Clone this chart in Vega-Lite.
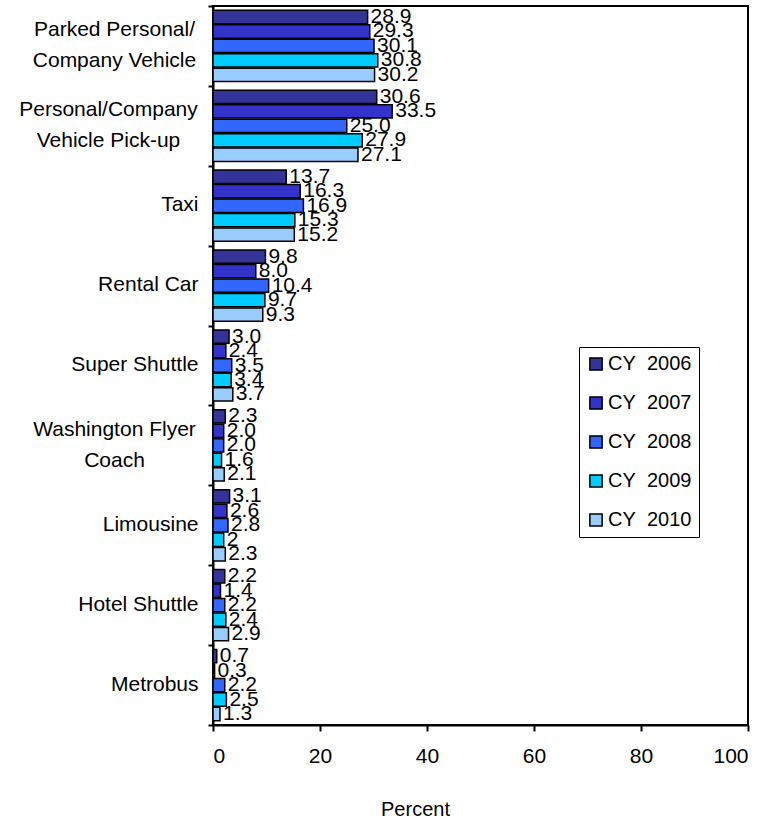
{
  "$schema": "https://vega.github.io/schema/vega-lite/v6.json",
  "width": 535,
  "height": 719,
  "autosize": "none",
  "padding": {"left": 213, "top": 6, "right": 32, "bottom": 95},
  "background": "white",
  "config": {
    "font": "Liberation Sans",
    "view": {"stroke": "black", "strokeWidth": 2},
    "axis": {"labelColor": "black", "titleColor": "black", "domainColor": "black", "tickColor": "black", "domainWidth": 2, "tickWidth": 2, "grid": false, "labelFontSize": 21, "titleFontSize": 20, "titleFontWeight": "normal"},
    "legend": {"labelColor": "black"}
  },
  "data": {
    "values": [
      {"mode": "Parked Personal/Company Vehicle", "year": "CY 2006", "pct": 28.9, "label": "28.9"},
      {"mode": "Parked Personal/Company Vehicle", "year": "CY 2007", "pct": 29.3, "label": "29.3"},
      {"mode": "Parked Personal/Company Vehicle", "year": "CY 2008", "pct": 30.1, "label": "30.1"},
      {"mode": "Parked Personal/Company Vehicle", "year": "CY 2009", "pct": 30.8, "label": "30.8"},
      {"mode": "Parked Personal/Company Vehicle", "year": "CY 2010", "pct": 30.2, "label": "30.2"},
      {"mode": "Personal/Company Vehicle Pick-up", "year": "CY 2006", "pct": 30.6, "label": "30.6"},
      {"mode": "Personal/Company Vehicle Pick-up", "year": "CY 2007", "pct": 33.5, "label": "33.5"},
      {"mode": "Personal/Company Vehicle Pick-up", "year": "CY 2008", "pct": 25.0, "label": "25.0"},
      {"mode": "Personal/Company Vehicle Pick-up", "year": "CY 2009", "pct": 27.9, "label": "27.9"},
      {"mode": "Personal/Company Vehicle Pick-up", "year": "CY 2010", "pct": 27.1, "label": "27.1"},
      {"mode": "Taxi", "year": "CY 2006", "pct": 13.7, "label": "13.7"},
      {"mode": "Taxi", "year": "CY 2007", "pct": 16.3, "label": "16.3"},
      {"mode": "Taxi", "year": "CY 2008", "pct": 16.9, "label": "16.9"},
      {"mode": "Taxi", "year": "CY 2009", "pct": 15.3, "label": "15.3"},
      {"mode": "Taxi", "year": "CY 2010", "pct": 15.2, "label": "15.2"},
      {"mode": "Rental Car", "year": "CY 2006", "pct": 9.8, "label": "9.8"},
      {"mode": "Rental Car", "year": "CY 2007", "pct": 8.0, "label": "8.0"},
      {"mode": "Rental Car", "year": "CY 2008", "pct": 10.4, "label": "10.4"},
      {"mode": "Rental Car", "year": "CY 2009", "pct": 9.7, "label": "9.7"},
      {"mode": "Rental Car", "year": "CY 2010", "pct": 9.3, "label": "9.3"},
      {"mode": "Super Shuttle", "year": "CY 2006", "pct": 3.0, "label": "3.0"},
      {"mode": "Super Shuttle", "year": "CY 2007", "pct": 2.4, "label": "2.4"},
      {"mode": "Super Shuttle", "year": "CY 2008", "pct": 3.5, "label": "3.5"},
      {"mode": "Super Shuttle", "year": "CY 2009", "pct": 3.4, "label": "3.4"},
      {"mode": "Super Shuttle", "year": "CY 2010", "pct": 3.7, "label": "3.7"},
      {"mode": "Washington Flyer Coach", "year": "CY 2006", "pct": 2.3, "label": "2.3"},
      {"mode": "Washington Flyer Coach", "year": "CY 2007", "pct": 2.0, "label": "2.0"},
      {"mode": "Washington Flyer Coach", "year": "CY 2008", "pct": 2.0, "label": "2.0"},
      {"mode": "Washington Flyer Coach", "year": "CY 2009", "pct": 1.6, "label": "1.6"},
      {"mode": "Washington Flyer Coach", "year": "CY 2010", "pct": 2.1, "label": "2.1"},
      {"mode": "Limousine", "year": "CY 2006", "pct": 3.1, "label": "3.1"},
      {"mode": "Limousine", "year": "CY 2007", "pct": 2.6, "label": "2.6"},
      {"mode": "Limousine", "year": "CY 2008", "pct": 2.8, "label": "2.8"},
      {"mode": "Limousine", "year": "CY 2009", "pct": 2.0, "label": "2"},
      {"mode": "Limousine", "year": "CY 2010", "pct": 2.3, "label": "2.3"},
      {"mode": "Hotel Shuttle", "year": "CY 2006", "pct": 2.2, "label": "2.2"},
      {"mode": "Hotel Shuttle", "year": "CY 2007", "pct": 1.4, "label": "1.4"},
      {"mode": "Hotel Shuttle", "year": "CY 2008", "pct": 2.2, "label": "2.2"},
      {"mode": "Hotel Shuttle", "year": "CY 2009", "pct": 2.4, "label": "2.4"},
      {"mode": "Hotel Shuttle", "year": "CY 2010", "pct": 2.9, "label": "2.9"},
      {"mode": "Metrobus", "year": "CY 2006", "pct": 0.7, "label": "0.7"},
      {"mode": "Metrobus", "year": "CY 2007", "pct": 0.3, "label": "0.3"},
      {"mode": "Metrobus", "year": "CY 2008", "pct": 2.2, "label": "2.2"},
      {"mode": "Metrobus", "year": "CY 2009", "pct": 2.5, "label": "2.5"},
      {"mode": "Metrobus", "year": "CY 2010", "pct": 1.3, "label": "1.3"}
    ]
  },
  "encoding": {
    "y": {
      "field": "mode",
      "type": "nominal",
      "sort": ["Parked Personal/Company Vehicle", "Personal/Company Vehicle Pick-up", "Taxi", "Rental Car", "Super Shuttle", "Washington Flyer Coach", "Limousine", "Hotel Shuttle", "Metrobus"],
      "scale": {"paddingInner": 0, "paddingOuter": 0},
      "axis": {
        "title": null,
        "tickBand": "extent",
        "tickSize": 5,
        "labelLineHeight": 31,
        "labelExpr": "datum.value == 'Parked Personal/Company Vehicle' ? ['Parked Personal/', 'Company Vehicle'] : datum.value == 'Personal/Company Vehicle Pick-up' ? ['Personal/Company', 'Vehicle Pick-up'] : datum.value == 'Washington Flyer Coach' ? ['Washington Flyer', 'Coach'] : datum.label",
        "labelAlign": {"condition": {"test": "datum.value == 'Parked Personal/Company Vehicle' || datum.value == 'Personal/Company Vehicle Pick-up' || datum.value == 'Washington Flyer Coach'", "value": "center"}, "value": "right"},
        "labelOffset": {"condition": {"test": "datum.value == 'Parked Personal/Company Vehicle' || datum.value == 'Personal/Company Vehicle Pick-up' || datum.value == 'Washington Flyer Coach'", "value": -16}, "value": -1},
        "labelPadding": {"condition": [
          {"test": "datum.value == 'Personal/Company Vehicle Pick-up'", "value": 100},
          {"test": "datum.value == 'Parked Personal/Company Vehicle' || datum.value == 'Washington Flyer Coach'", "value": 94}
        ], "value": 10}
      }
    },
    "yOffset": {
      "field": "year",
      "type": "nominal",
      "sort": ["CY 2006", "CY 2007", "CY 2008", "CY 2009", "CY 2010"],
      "scale": {"paddingInner": 0.08, "paddingOuter": 0.3}
    },
    "x": {
      "field": "pct",
      "type": "quantitative",
      "scale": {"domain": [0, 100], "nice": false},
      "axis": {
        "values": [0, 20, 40, 60, 80, 100],
        "tickSize": 6,
        "labelPadding": 14,
        "title": "Percent",
        "titleX": 202,
        "titleY": 90,
        "titleAlign": "center",
        "titleBaseline": "alphabetic"
      }
    }
  },
  "layer": [
    {
      "mark": {"type": "bar", "stroke": "black", "strokeWidth": 1.5, "opacity": 1},
      "encoding": {
        "color": {
          "field": "year",
          "type": "nominal",
          "scale": {"domain": ["CY 2006", "CY 2007", "CY 2008", "CY 2009", "CY 2010"], "range": ["#333399", "#3333CC", "#3366FF", "#00CCFF", "#99CCFF"]},
          "legend": {
            "title": null,
            "orient": "none",
            "legendX": 366,
            "legendY": 341,
            "strokeColor": "black",
            "fillColor": "white",
            "padding": 7,
            "labelOffset": 2,
            "labelFontSize": 20,
            "symbolType": "square",
            "symbolSize": 150,
            "symbolStrokeColor": "black",
            "symbolStrokeWidth": 1.5,
            "symbolOpacity": 1,
            "rowPadding": 19,
            "labelExpr": "replace(datum.label, ' ', '\u00a0\u00a0')"
          }
        }
      }
    },
    {
      "mark": {"type": "text", "align": "left", "baseline": "middle", "dx": 3, "fontSize": 21, "color": "black"},
      "encoding": {"text": {"field": "label"}}
    }
  ]
}
